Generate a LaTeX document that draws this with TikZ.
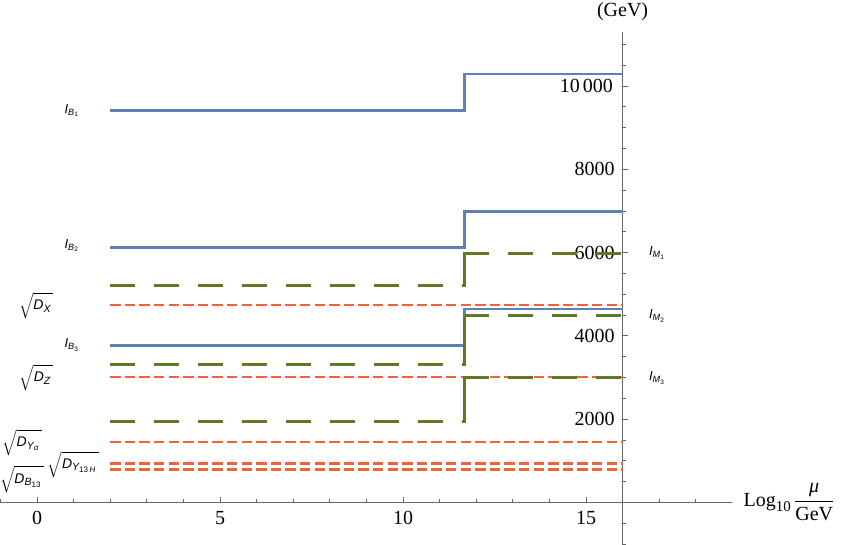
\documentclass[tikz,border=0pt]{standalone}
\usepackage{amsmath}
\usepackage{fontspec}
\setmainfont{Liberation Serif}
\setsansfont{Liberation Sans}
\DeclareMathSizes{14}{14}{10.5}{8}
\definecolor{pblue}{RGB}{94,129,181}
\definecolor{pgreen}{RGB}{96,122,36}
\definecolor{porange}{RGB}{239,100,55}
\newcommand\sfi[1]{\textsf{\itshape #1}}
\newcommand\sfu[1]{\textsf{\upshape #1}}
\newcommand\bigrt[1]{\sqrt{\rule[-5pt]{0pt}{16pt}#1\,}}
\begin{document}
\begin{tikzpicture}[x=36.6pt,y=41.65pt,
  bl/.style={draw=pblue,line width=2.8pt},
  gd/.style={draw=pgreen,line width=3pt,dash pattern=on 25pt off 19pt},
  gs/.style={draw=pgreen,line width=3pt,line cap=rect},
  od/.style={draw=porange,line width=2.8pt,dash pattern=on 10.3pt off 4.3pt},
  ax/.style={draw=black!60,line width=0.8pt},
  tk/.style={font=\fontsize{20}{24}\selectfont,inner sep=0pt},
  lab/.style={font=\fontsize{13}{15}\selectfont,inner sep=0pt},
  rlab/.style={font=\fontsize{14}{16}\selectfont,inner sep=0pt}]
\useasboundingbox (-37pt,-42.5pt) rectangle (804pt,502.5pt);
\def\xs{11.675}
% axes
\coordinate (xl) at (-1.011,0);
\coordinate (xr) at (18.98,0);
\coordinate (yb) at (16,-1.03);
\coordinate (yt) at (16,11.3);
\draw[ax] (xl) -- (xr);
\draw[ax] (yb) -- (yt);
\foreach \i in {-1,...,15,17,18} \draw[ax] (\i,0) -- ++(0,3pt);
\foreach \i in {0,5,10,15} \draw[ax] (\i,0) -- ++(0,5pt);
\foreach \v in {-1,-0.5,0.5,1,1.5,2,2.5,3,3.5,4,4.5,5,5.5,6,6.5,7,7.5,8,8.5,9,9.5,10,10.5,11} \draw[ax] (16,\v) -- ++(3pt,0);
\foreach \v in {2,4,6,8,10} \draw[ax] (16,\v) -- ++(5pt,0);
% tick labels
\node[tk,anchor=base] (tx0) at (0,-0.54) {0};
\node[tk,anchor=base] (tx5) at (5,-0.54) {5};
\node[tk,anchor=base] (tx10) at (10,-0.54) {10};
\node[tk,anchor=base] (tx15) at (15,-0.54) {15};
\node[tk,anchor=east] (ty2) at (15.79,2) {2000};
\node[tk,anchor=east] (ty4) at (15.79,4) {4000};
\node[tk,anchor=east] (ty6) at (15.79,6) {6000};
\node[tk,anchor=east] (ty8) at (15.79,8) {8000};
\node[tk,anchor=east] (ty10) at (15.74,10) {10\hspace{3pt}000};
\node[tk] (ylab) at (16,11.78) {(GeV)};
\node[tk,anchor=base west] (xlab) at (19.30,-0.10) {Log\raisebox{-5pt}{\fontsize{15}{15}\selectfont 10}\,$\dfrac{\text{\itshape μ}}{\text{GeV}}$};
% blue lines
\coordinate (b1a) at (2,9.407); \coordinate (b1b) at (\xs,9.407);
\coordinate (b1c) at (\xs,10.288); \coordinate (b1d) at (16,10.288);
\draw[bl] (b1a) -- (b1b) -- (b1c) -- (b1d);
\coordinate (b2a) at (2,6.118); \coordinate (b2b) at (\xs,6.118);
\coordinate (b2c) at (\xs,6.982); \coordinate (b2d) at (16,6.982);
\draw[bl] (b2a) -- (b2b) -- (b2c) -- (b2d);
\coordinate (b3a) at (2,3.765); \coordinate (b3b) at (\xs,3.765);
\coordinate (b3c) at (\xs,4.646); \coordinate (b3d) at (16,4.646);
\draw[bl] (b3a) -- (b3b) -- (b3c) -- (b3d);
% orange lines
\coordinate (o1a) at (2,4.742); \coordinate (o1b) at (16,4.742);
\draw[od] (o1a) -- (o1b);
\coordinate (o2a) at (2,3.013); \coordinate (o2b) at (16,3.013);
\draw[od] (o2a) -- (o2b);
\coordinate (o3a) at (2,1.453); \coordinate (o3b) at (16,1.453);
\draw[od] (o3a) -- (o3b);
\coordinate (o4a) at (2,0.941); \coordinate (o4b) at (16,0.941);
\draw[od] (o4a) -- (o4b);
\coordinate (o5a) at (2,0.788); \coordinate (o5b) at (16,0.788);
\draw[od] (o5a) -- (o5b);
% green lines
\coordinate (g1a) at (2,5.198); \coordinate (g1b) at (\xs,5.198);
\coordinate (g1c) at (\xs,5.983); \coordinate (g1d) at (16,5.983);
\draw[gd] (g1a) -- (g1b); \draw[gs] (g1b) -- (g1c); \draw[gd] (g1c) -- (g1d);
\coordinate (g2a) at (2,3.325); \coordinate (g2b) at (\xs,3.325);
\coordinate (g2c) at (\xs,4.494); \coordinate (g2d) at (16,4.494);
\draw[gd] (g2a) -- (g2b); \draw[gs] (g2b) -- (g2c); \draw[gd] (g2c) -- (g2d);
\coordinate (g3a) at (2,1.940); \coordinate (g3b) at (\xs,1.940);
\coordinate (g3c) at (\xs,2.996); \coordinate (g3d) at (16,2.996);
\draw[gd] (g3a) -- (g3b); \draw[gs] (g3b) -- (g3c); \draw[gd] (g3c) -- (g3d);
% labels
\node[lab] (lb1) at (0.95,9.41) {$\sfi{I}_{\sfi{B}_{\sfu{1}}}$};
\node[lab] (lb2) at (0.95,6.17) {$\sfi{I}_{\sfi{B}_{\sfu{2}}}$};
\node[lab] (lb3) at (0.95,3.78) {$\sfi{I}_{\sfi{B}_{\sfu{3}}}$};
\node[lab] (lm1) at (16.94,5.99) {$\sfi{I}_{\sfi{M}_{\sfu{1}}}$};
\node[lab] (lm2) at (16.94,4.48) {$\sfi{I}_{\sfi{M}_{\sfu{2}}}$};
\node[lab] (lm3) at (16.94,2.99) {$\sfi{I}_{\sfi{M}_{\sfu{3}}}$};
\node[rlab] (ldx) at (-0.02,4.72) {$\bigrt{\sfi{D}_{\sfi{X}}}$};
\node[rlab] (ldz) at (-0.02,2.99) {$\bigrt{\sfi{D}_{\sfi{Z}}}$};
\node[rlab] (ldya) at (-0.41,1.43) {$\bigrt{\sfi{D}_{\sfi{Y}_{\sfi{α}}}}$};
\node[rlab] (ldyh) at (0.99,0.92) {$\bigrt{\sfi{D}_{\sfi{Y}_{\sfu{13}\,\sfi{H}}}}$};
\node[rlab] (ldb) at (-0.41,0.56) {$\bigrt{\sfi{D}_{\sfi{B}_{\sfu{13}}}}$};
\end{tikzpicture}
\end{document}
